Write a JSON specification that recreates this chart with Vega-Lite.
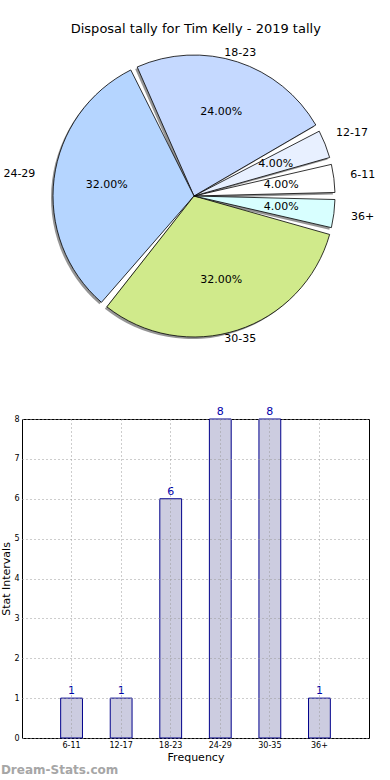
{
  "$schema": "https://vega.github.io/schema/vega-lite/v6.json",
  "padding": {"top": 23, "left": 0, "right": 0, "bottom": 0},
  "title": {"text": "Disposal tally for Tim Kelly - 2019 tally", "anchor": "middle", "dx": 8, "fontSize": 13, "fontWeight": "normal", "font": "DejaVu Sans", "color": "#000000", "offset": -10},
  "config": {"font": "DejaVu Sans", "view": {"stroke": null}},
  "spacing": 53,
  "bounds": "flush",
  "datasets": {
    "tally": [
      {"range": "6-11", "rank": 1, "count": 1, "share": 0.04},
      {"range": "12-17", "rank": 2, "count": 1, "share": 0.04},
      {"range": "18-23", "rank": 3, "count": 6, "share": 0.24},
      {"range": "24-29", "rank": 4, "count": 8, "share": 0.32},
      {"range": "30-35", "rank": 5, "count": 8, "share": 0.32},
      {"range": "36+", "rank": 6, "count": 1, "share": 0.04}
    ]
  },
  "vconcat": [
    {
      "width": 344,
      "height": 340,
      "data": {"name": "tally"},
      "encoding": {
        "theta": {"field": "share", "type": "quantitative", "stack": true, "scale": {"range": [1.5708, -4.7124]}},
        "order": {"field": "rank", "type": "quantitative"}
      },
      "layer": [
        {
          "mark": {"type": "arc", "outerRadius": 141, "padAngle": 0.05, "fill": "#7a7a7a", "opacity": 0.8, "xOffset": -2, "yOffset": 2}
        },
        {
          "mark": {"type": "arc", "outerRadius": 141, "padAngle": 0.05, "stroke": "#000000", "strokeWidth": 0.8},
          "encoding": {
            "color": {
              "field": "range", "type": "nominal", "legend": null,
              "scale": {
                "domain": ["6-11", "12-17", "18-23", "24-29", "30-35", "36+"],
                "range": ["#ffffff", "#e8f0ff", "#c5d9ff", "#b5d5ff", "#d0ea8b", "#d8ffff"]
              }
            }
          }
        },
        {
          "mark": {"type": "text", "radius": 88, "fontSize": 11, "color": "#000000"},
          "encoding": {"text": {"field": "share", "type": "quantitative", "format": ".2%"}}
        },
        {
          "mark": {"type": "text", "fontSize": 11, "color": "#000000", "radius": {"expr": "datum.range == '18-23' || datum.range == '30-35' ? 150 : (datum.range == '24-29' ? 176 : 170)"}},
          "encoding": {"text": {"field": "range", "type": "nominal"}}
        }
      ]
    },
    {
      "width": 347,
      "height": 319,
      "view": {"stroke": "#000000", "strokeWidth": 1},
      "data": {"name": "tally"},
      "title": {"text": "Dream-Stats.com", "orient": "bottom", "anchor": "start", "frame": "bounds", "fontSize": 12, "fontWeight": "bold", "color": "#a6a6a6", "offset": 3},
      "encoding": {
        "x": {
          "field": "range", "type": "nominal",
          "sort": ["6-11", "12-17", "18-23", "24-29", "30-35", "36+"],
          "scale": {"paddingInner": 0.56, "paddingOuter": 0.78},
          "axis": {"title": "Frequency", "titleFontSize": 11, "titleFontWeight": "normal", "titlePadding": 2, "labelAngle": 0, "labelFontSize": 8, "labelPadding": 3, "ticks": false, "domain": false, "bandPosition": 0.5, "grid": true, "gridDash": [1, 3], "gridColor": "#9a9a9a", "gridOpacity": 1, "zindex": 1, "labelColor": "#000000", "titleColor": "#000000"}
        },
        "y": {
          "field": "count", "type": "quantitative",
          "scale": {"domain": [0, 8], "nice": false},
          "axis": {"title": "Stat Intervals", "titleFontSize": 11, "titleFontWeight": "normal", "titlePadding": 2, "values": [0, 1, 2, 3, 4, 5, 6, 7, 8], "labelFontSize": 8, "labelPadding": 3, "ticks": false, "domain": false, "grid": true, "gridDash": [1, 3], "gridColor": "#9a9a9a", "gridOpacity": 1, "zindex": 1, "labelColor": "#000000", "titleColor": "#000000"}
        }
      },
      "layer": [
        {"mark": {"type": "bar", "fill": "#cccce0", "stroke": "#00008b", "strokeWidth": 1}},
        {"mark": {"type": "text", "dy": -7, "fontSize": 11, "color": "#0000aa"}, "encoding": {"text": {"field": "count", "type": "quantitative"}}}
      ]
    }
  ],
  "resolve": {"scale": {"color": "independent"}}
}
